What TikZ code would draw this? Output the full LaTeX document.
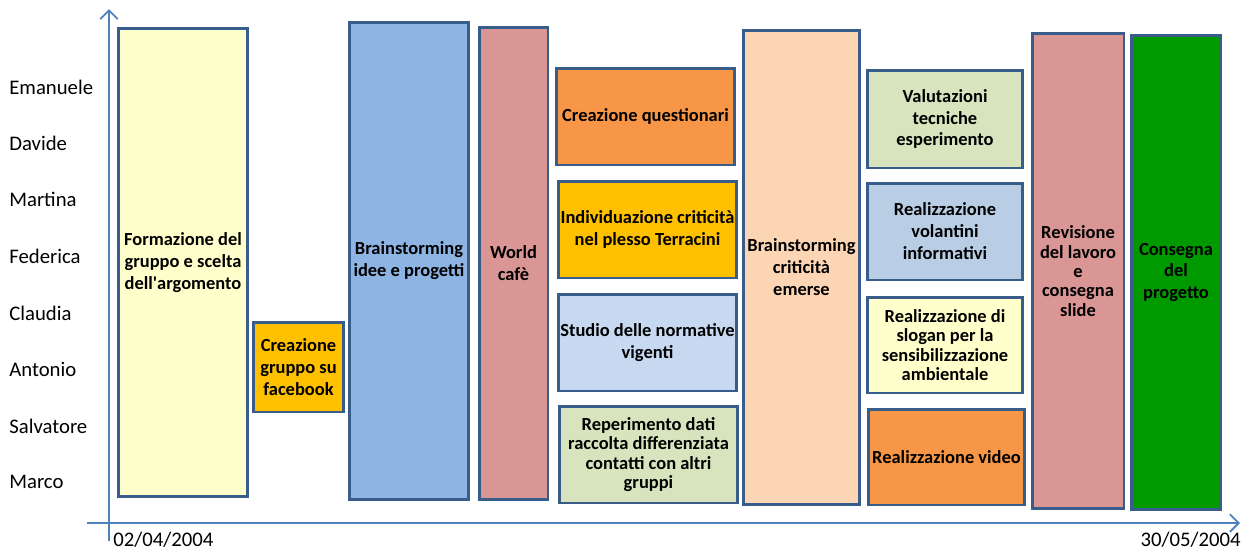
\documentclass[tikz,border=0pt]{standalone}
\usepackage{fontspec}
\setmainfont{Carlito}
\usetikzlibrary{arrows.meta}

\definecolor{framec}{HTML}{385D8A}
\definecolor{axisc}{HTML}{4F81BD}
\definecolor{paleyellow}{HTML}{FFFFCC}
\definecolor{gold}{HTML}{FFC000}
\definecolor{skyblue}{HTML}{8EB4E3}
\definecolor{rose}{HTML}{D99694}
\definecolor{tangerine}{HTML}{F79646}
\definecolor{iceblue}{HTML}{C6D9F1}
\definecolor{steelpale}{HTML}{B9CDE5}
\definecolor{sage}{HTML}{D7E4BD}
\definecolor{peach}{HTML}{FCD5B5}
\definecolor{deepgreen}{HTML}{009900}

\begin{document}
\begin{tikzpicture}[x=0.02cm, y=-0.02cm]

\tikzstyle{task}=[align=center, draw=framec, line width=1.7pt, inner sep=0pt,
font=\fontsize{10.5}{12.5}\selectfont\bfseries]
\tikzstyle{tight}=[font=\fontsize{10.5}{11}\selectfont\bfseries]
\tikzstyle{member}=[anchor=west, inner sep=0pt, font=\fontsize{11.8}{14}\selectfont]
\tikzstyle{axis}=[draw=axisc, line width=1.1pt, -{Straight Barb[length=5pt,width=10pt]}]

\useasboundingbox (0,0) rectangle (1249,552);

% axes
\coordinate (tstart) at (87,523);
\coordinate (tend) at (1240,523);
\coordinate (mstart) at (109,541);
\coordinate (mend) at (109,9);
\draw[axis] (tstart) -- (tend);
\draw[axis] (mstart) -- (mend);

\node[member] (datestart) at (113,540) {02/04/2004};
\node[member, anchor=east] (dateend) at (1241,540) {30/05/2004};

% group members
\node[member] (emanuele) at (9,87) {Emanuele};
\node[member] (davide) at (9,143) {Davide};
\node[member] (martina) at (9,199) {Martina};
\node[member] (federica) at (9,256) {Federica};
\node[member] (claudia) at (9,313) {Claudia};
\node[member] (antonio) at (9,369) {Antonio};
\node[member] (salvatore) at (9,426) {Salvatore};
\node[member] (marco) at (9,482) {Marco};

% activities
\node[task, fill=paleyellow, minimum width=2.6cm, minimum height=9.38cm] (formazione) at (183,262.5)
{Formazione del\\gruppo e scelta\\dell\textquotesingle argomento};
\node[task, fill=gold, minimum width=1.82cm, minimum height=1.8cm] (facebook) at (298.5,367)
{Creazione\\gruppo su\\facebook};
\node[task, fill=skyblue, minimum width=2.4cm, minimum height=9.56cm] (brainidee) at (409,261)
{Brainstorming\\idee e progetti};
\node[task, fill=rose, minimum width=1.38cm, minimum height=9.46cm] (worldcafe) at (513.5,263.5)
{World\\cafè};

\node[task, fill=tangerine, minimum width=3.58cm, minimum height=1.94cm] (questionari) at (645.5,116.5)
{Creazione questionari};
\node[task, fill=gold, minimum width=3.58cm, minimum height=1.94cm] (criticita) at (647.5,229.5)
{Individuazione criticità\\nel plesso Terracini};
\node[task, fill=iceblue, minimum width=3.58cm, minimum height=1.94cm] (normative) at (647.5,342.5)
{Studio delle normative\\vigenti};
\node[task, tight, fill=sage, minimum width=3.58cm, minimum height=1.94cm] (reperimento) at (648.5,454.5)
{Reperimento dati\\raccolta differenziata\\contatti con altri\\gruppi};

\node[task, fill=peach, minimum width=2.34cm, minimum height=9.5cm] (brainemerse) at (801.5,267.5)
{Brainstorming\\criticità\\emerse};

\node[task, fill=sage, minimum width=3.12cm, minimum height=1.96cm] (valutazioni) at (945,119)
{Valutazioni\\tecniche\\esperimento};
\node[task, fill=steelpale, minimum width=3.12cm, minimum height=1.94cm] (volantini) at (945,231.5)
{Realizzazione\\volantini\\informativi};
\node[task, tight, fill=paleyellow, minimum width=3.12cm, minimum height=1.92cm] (slogan) at (945,345)
{Realizzazione di\\slogan per la\\sensibilizzazione\\ambientale};
\node[task, fill=tangerine, minimum width=3.14cm, minimum height=1.92cm] (video) at (946.5,457)
{Realizzazione video};

\node[task, tight, fill=rose, minimum width=1.84cm, minimum height=9.52cm] (revisione) at (1078,271)
{Revisione\\del lavoro\\e\\consegna\\slide};
\node[task, fill=deepgreen, minimum width=1.8cm, minimum height=9.5cm] (consegna) at (1176,272.5)
{Consegna\\del\\progetto};

\end{tikzpicture}
\end{document}
